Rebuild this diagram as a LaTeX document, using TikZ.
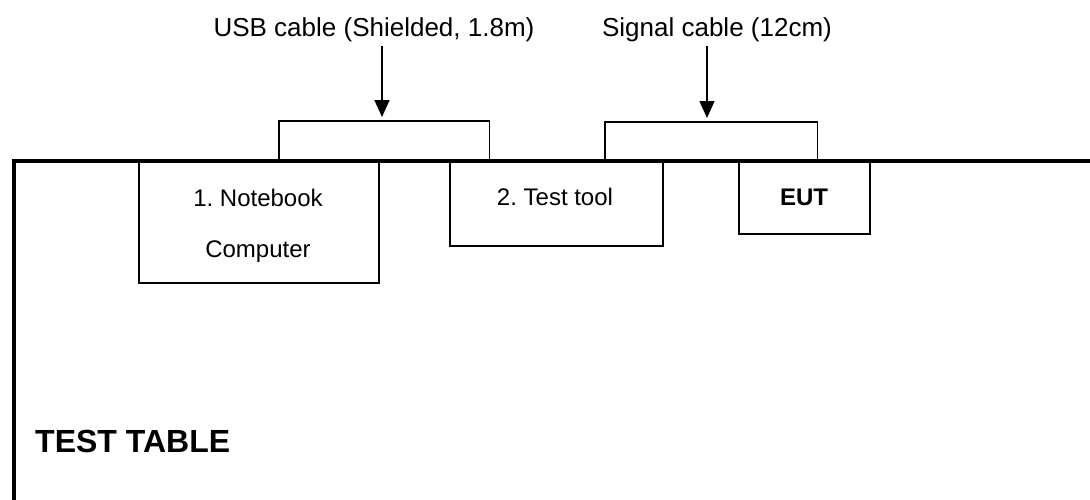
\documentclass[tikz,border=0pt]{standalone}
\usepackage{fontspec}
\setmainfont{Liberation Sans}
\usetikzlibrary{arrows.meta}
\frenchspacing
\begin{document}
\begin{tikzpicture}[x=1pt,y=-1pt,
  box/.style={draw,line width=1.6pt,anchor=north west,inner sep=0pt},
  lbl/.style={font=\fontsize{24}{28}\selectfont},
  clbl/.style={font=\fontsize{26}{30}\selectfont},
  cab/.style={line width=1.6pt},
  arr/.style={line width=1.6pt,-{Triangle[width=15pt,length=17pt]}}]
\useasboundingbox (0,0) rectangle (1090,499);
% table
\coordinate (tl) at (14,161);
\coordinate (tb) at (14,505);
\coordinate (tr) at (1095,161);
\draw[line width=4pt] (tb) -- (tl) -- (tr);
\node[anchor=west,inner sep=0pt,font=\fontsize{32}{36}\selectfont\bfseries] (table) at (35,441) {TEST TABLE};
% equipment
\node[box,minimum width=240pt,minimum height=121pt] (nb) at (138,161) {};
\node[lbl] (nbt1) at (258,198) {1. Notebook};
\node[lbl] (nbt2) at (258,252) {Computer};
\node[box,minimum width=213pt,minimum height=84pt] (tt) at (449,161) {};
\node[lbl] (ttt) at (555,197) {2. Test tool};
\node[box,minimum width=131pt,minimum height=72pt] (eut) at (738,161) {};
\node[lbl,font=\fontsize{24}{28}\selectfont\bfseries] (eutt) at (804,197) {EUT};
% cables
\node[anchor=north west,minimum width=210pt,minimum height=40pt,inner sep=0pt] (c1) at (279,121) {};
\draw[cab] (c1.south west) |- (c1.north east) -- (c1.south east);
\node[anchor=north west,minimum width=212pt,minimum height=39pt,inner sep=0pt] (c2) at (605,122) {};
\draw[cab] (c2.south west) |- (c2.north east) -- (c2.south east);
\node[clbl] (usb) at (374,30) {USB cable (Shielded, 1.8m)};
\node[clbl] (sig) at (717,30) {Signal cable (12cm)};
\coordinate (a1s) at (382,46);
\coordinate (a1e) at (382,117);
\coordinate (a2s) at (707,46);
\coordinate (a2e) at (707,118);
\draw[arr] (a1s) -- (a1e);
\draw[arr] (a2s) -- (a2e);
\end{tikzpicture}
\end{document}
